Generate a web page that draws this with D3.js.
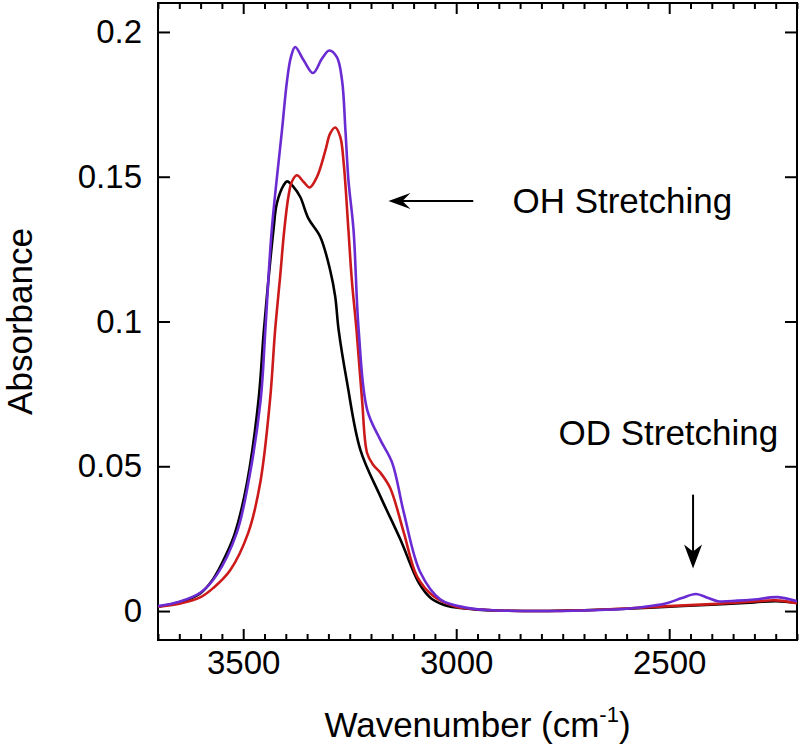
<!DOCTYPE html>
<html><head><meta charset="utf-8">
<script src="https://cdn.jsdelivr.net/npm/d3@7"></script>
<style>
body{margin:0;background:#fff;}
text{font-family:"Liberation Sans", Arial, Helvetica, sans-serif;fill:#000;}
</style></head>
<body><svg id="chart" width="799" height="756"></svg>
<script>
// ---- data ----
const blackX = [3700,3650,3600,3570,3540,3519,3491,3464,3452,3441,3429,3421,3405,3397,3382,3366,3347,3319,3296,3284,3276,3256,3225,3178,3131,3088,3060,3030,3000,2950,2900,2800,2700,2600,2500,2400,2300,2250,2200];
const blackY = [0.0015,0.0030,0.0062,0.0112,0.0195,0.0271,0.0443,0.0729,0.0960,0.1140,0.1316,0.1408,0.1471,0.1484,0.1465,0.1430,0.1356,0.1292,0.1178,0.1086,0.0971,0.0788,0.0557,0.0396,0.0247,0.0098,0.0045,0.0022,0.0012,0.0005,0.0002,0.0000,0.0003,0.0008,0.0015,0.0022,0.0030,0.0034,0.0028];

const redX = [3700,3650,3600,3570,3531,3488,3460,3437,3425,3413,3404,3394,3386,3374,3358,3344,3327,3307,3296,3284,3272,3264,3253,3245,3234,3221,3209,3195,3178,3155,3123,3092,3053,3000,2950,2900,2800,2700,2600,2500,2400,2300,2250,2200];
const redY = [0.0015,0.0025,0.0048,0.0080,0.0140,0.0271,0.0443,0.0729,0.0971,0.1160,0.1310,0.1430,0.1482,0.1505,0.1482,0.1463,0.1499,0.1591,0.1649,0.1670,0.1637,0.1545,0.1316,0.1143,0.0971,0.0729,0.0545,0.0505,0.0478,0.0425,0.0271,0.0120,0.0051,0.0015,0.0006,0.0002,0.0000,0.0003,0.0009,0.0017,0.0024,0.0033,0.0037,0.0027];

const purpleX = [3700,3650,3600,3562,3515,3488,3459,3448,3433,3409,3397,3388,3378,3358,3336,3315,3298,3280,3268,3260,3253,3241,3229,3209,3178,3150,3123,3084,3037,2974,2900,2800,2700,2600,2540,2504,2470,2437,2410,2386,2340,2300,2245,2200];
const purpleY = [0.0017,0.0032,0.0064,0.0125,0.0271,0.0443,0.0729,0.0971,0.1316,0.1660,0.1833,0.1913,0.1948,0.1902,0.1858,0.1908,0.1936,0.1913,0.1833,0.1660,0.1488,0.1316,0.0971,0.0695,0.0591,0.0511,0.0340,0.0133,0.0040,0.0011,0.0002,0.0000,0.0002,0.0008,0.0018,0.0028,0.0045,0.0059,0.0046,0.0034,0.0036,0.0040,0.0048,0.0034];

const xMajorTicks = [3500,3000,2500];
const yTicks = [0,0.05,0.1,0.15,0.2];
const yTickLabels = ["0","0.05","0.1","0.15","0.2"];
const xTitle = "Wavenumber (cm";
const yTitle = "Absorbance";

// ---- layout ----
const svg = d3.select("#chart");
const W = 799, H = 756;
const m = {left:158, right:2, top:3, bottom:116};
const x = d3.scaleLinear().domain([3700,2200]).range([m.left, W-m.right]);
const y = d3.scaleLinear().domain([-0.01,0.21]).range([H-m.bottom, m.top]);
const xMinor = d3.range(3700, 2199, -50).filter(v => !xMajorTicks.includes(v));

const axisStroke = 2;
const FONT = "Liberation Sans, Arial, sans-serif";
function styleAxis(g){ g.select(".domain").remove(); g.selectAll("line").attr("stroke","#000").attr("stroke-width",axisStroke); }

// bottom
svg.append("g").attr("transform",`translate(0,${y.range()[0]})`)
  .call(d3.axisBottom(x).tickValues(xMajorTicks).tickSize(-11).tickPadding(11).tickFormat(d3.format("d")))
  .call(styleAxis).call(g=>g.selectAll("text").attr("font-size",33).attr("font-family",FONT));
svg.append("g").attr("transform",`translate(0,${y.range()[0]})`)
  .call(d3.axisBottom(x).tickValues(xMinor).tickSize(-6).tickFormat(""))
  .call(styleAxis);
// top
svg.append("g").attr("transform",`translate(0,${y.range()[1]})`)
  .call(d3.axisTop(x).tickValues(xMajorTicks).tickSize(-11).tickFormat(""))
  .call(styleAxis);
svg.append("g").attr("transform",`translate(0,${y.range()[1]})`)
  .call(d3.axisTop(x).tickValues(xMinor).tickSize(-6).tickFormat(""))
  .call(styleAxis);
// left
svg.append("g").attr("transform",`translate(${x.range()[0]},0)`)
  .call(d3.axisLeft(y).tickValues(yTicks).tickSize(-12).tickPadding(16).tickFormat((d,i)=>yTickLabels[i]))
  .call(styleAxis).call(g=>g.selectAll("text").attr("font-size",33).attr("font-family",FONT));
// right
svg.append("g").attr("transform",`translate(${x.range()[1]},0)`)
  .call(d3.axisRight(y).tickValues(yTicks).tickSize(-12).tickFormat(""))
  .call(styleAxis);

// frame
svg.append("rect").attr("x",x.range()[0]).attr("y",y.range()[1])
  .attr("width",x.range()[1]-x.range()[0]).attr("height",y.range()[0]-y.range()[1])
  .attr("fill","none").attr("stroke","#000").attr("stroke-width",axisStroke);

// lines
svg.append("clipPath").attr("id","clip").append("rect")
  .attr("x",x.range()[0]).attr("y",y.range()[1]).attr("width",x.range()[1]-x.range()[0]).attr("height",y.range()[0]-y.range()[1]);
const line = d3.line().x(d=>x(d[0])).y(d=>y(d[1])).curve(d3.curveCatmullRom.alpha(0.5));
const series = [
  {xs:blackX, ys:blackY, color:"#000000"},
  {xs:redX, ys:redY, color:"#cc1a1a"},
  {xs:purpleX, ys:purpleY, color:"#6a2bd3"}
];
series.forEach(s=>{
  const pts = s.xs.map((v,i)=>[v,s.ys[i]]).sort((a,b)=>x(a[0])-x(b[0]));
  svg.append("path").attr("d",line(pts)).attr("fill","none").attr("stroke",s.color)
    .attr("stroke-width",2.6).attr("clip-path","url(#clip)").attr("stroke-linejoin","round");
});

// axis titles
const xt = svg.append("text").attr("x",(x.range()[0]+x.range()[1])/2).attr("y",737)
  .attr("text-anchor","middle").attr("font-size",35);
xt.append("tspan").text(xTitle);
xt.append("tspan").attr("font-size",22).attr("dy",-15).text("-1");
xt.append("tspan").attr("dy",15).text(")");

svg.append("text").attr("transform",`translate(32,${(y.range()[0]+y.range()[1])/2}) rotate(-90)`)
  .attr("text-anchor","middle").attr("font-size",35).text(yTitle);

// annotations (data coords)
const annoOH = {text:"OH Stretching", tx:2868, ty:0.1374, ax1:2960, ax2:3159, ay:0.1416};
const annoOD = {text:"OD Stretching", tx:2760, ty:0.0574, ax:2444, ay1:0.0402, ay2:0.0147};

svg.append("text").attr("x",x(annoOH.tx)).attr("y",y(annoOH.ty)).attr("font-size",35).text(annoOH.text);
svg.append("text").attr("x",x(annoOD.tx)).attr("y",y(annoOD.ty)).attr("font-size",35).text(annoOD.text);

// OH arrow (pointing left)
{
  const x1 = x(annoOH.ax1), x2 = x(annoOH.ax2), yy = y(annoOH.ay);
  svg.append("line").attr("x1",x1).attr("x2",x2+8).attr("y1",yy).attr("y2",yy).attr("stroke","#000").attr("stroke-width",2);
  svg.append("path").attr("d",`M${x2},${yy} L${x2+22},${yy-8} L${x2+14},${yy} L${x2+22},${yy+8} Z`).attr("fill","#000");
}
// OD arrow (pointing down)
{
  const xx = x(annoOD.ax), y1 = y(annoOD.ay1), y2 = y(annoOD.ay2);
  svg.append("line").attr("x1",xx).attr("x2",xx).attr("y1",y1).attr("y2",y2-8).attr("stroke","#000").attr("stroke-width",2);
  svg.append("path").attr("d",`M${xx},${y2} L${xx-9},${y2-24} L${xx},${y2-17} L${xx+9},${y2-24} Z`).attr("fill","#000");
}
</script>
</body></html>
